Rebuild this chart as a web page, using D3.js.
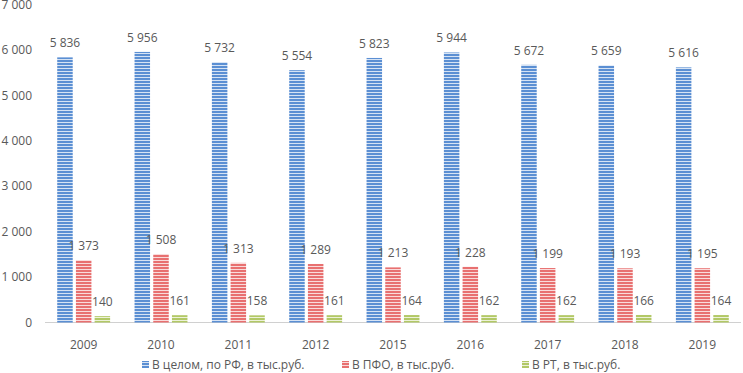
<!DOCTYPE html>
<html><head><meta charset="utf-8">
<script src="https://cdn.jsdelivr.net/npm/d3@7"></script>
<style>body{margin:0;background:#fff}svg{display:block}</style>
</head><body>
<svg id="c" width="743" height="373"></svg>
<script>
const years = ["2009","2010","2011","2012","2015","2016","2017","2018","2019"];
const rf  = [5836,5956,5732,5554,5823,5944,5672,5659,5616];
const pfo = [1373,1508,1313,1289,1213,1228,1199,1193,1195];
const rt  = [140,161,158,161,164,162,162,166,164];
const seriesNames = ["В целом, по РФ, в тыс.руб.","В ПФО, в тыс.руб.","В РТ, в тыс.руб."];
const colors = ["#5b8fd3","#e87070","#b2c866"];
const yTicks = [0,1000,2000,3000,4000,5000,6000,7000];

const series = [rf,pfo,rt];
const svg = d3.select("#c");
const font = "'Open Sans', sans-serif";
const txt = "#595959";

const x = d3.scaleBand().domain(years).range([45,741]).paddingInner(0).paddingOuter(0);
const y = d3.scaleLinear().domain([0,7000]).range([322.5,4.5]);
const barW = 15.5, gap = 3.2;

const defs = svg.append("defs");
colors.forEach((c,i)=>{
  const p = defs.append("pattern").attr("id","p"+i).attr("patternUnits","userSpaceOnUse")
    .attr("width",4).attr("height",3);
  p.append("rect").attr("width",4).attr("height",3).attr("fill",c);
  p.append("rect").attr("y",2).attr("width",4).attr("height",1).attr("fill","#fff").attr("opacity",0.75);
});

const fmt = v => d3.format(",")(v).replace(/,/g," ");

// y axis labels
svg.append("g").selectAll("text").data(yTicks).join("text")
  .attr("x",32).attr("y",d=>y(d)).attr("dy","0.35em").attr("text-anchor","end")
  .attr("font-family",font).attr("font-size",12).attr("fill",txt).text(fmt);

// axis line
svg.append("line").attr("x1",45).attr("x2",741).attr("y1",y(0)).attr("y2",y(0))
  .attr("stroke","#d0d0d0").attr("stroke-width",1.2);

series.forEach((vals,si)=>{
  const off = (si-1)*(barW+gap);
  const g = svg.append("g");
  g.selectAll("rect").data(vals).join("rect")
    .attr("x",(d,i)=>x(years[i])+x.bandwidth()/2+off-barW/2)
    .attr("width",barW)
    .attr("y",d=>y(d)).attr("height",d=>y(0)-y(d))
    .attr("fill",`url(#p${si})`);
  g.selectAll("text").data(vals).join("text")
    .attr("x",(d,i)=>x(years[i])+x.bandwidth()/2+off)
    .attr("y",d=>y(d)-10)
    .attr("text-anchor","middle")
    .attr("font-family",font).attr("font-size",12).attr("fill",txt).text(fmt);
});

// x labels
svg.append("g").selectAll("text").data(years).join("text")
  .attr("x",d=>x(d)+x.bandwidth()/2).attr("y",345).attr("dy","0.35em")
  .attr("text-anchor","middle").attr("font-family",font).attr("font-size",12)
  .attr("fill",txt).text(d=>d);

// legend
const legX = [142,342,522];
const leg = svg.append("g");
seriesNames.forEach((n,i)=>{
  leg.append("rect").attr("x",legX[i]).attr("y",361).attr("width",7).attr("height",7)
    .attr("fill",`url(#p${i})`);
  leg.append("text").attr("x",legX[i]+10).attr("y",364.5).attr("dy","0.35em")
    .attr("font-family",font).attr("font-size",12).attr("fill",txt).text(n);
});
</script>
</body></html>
